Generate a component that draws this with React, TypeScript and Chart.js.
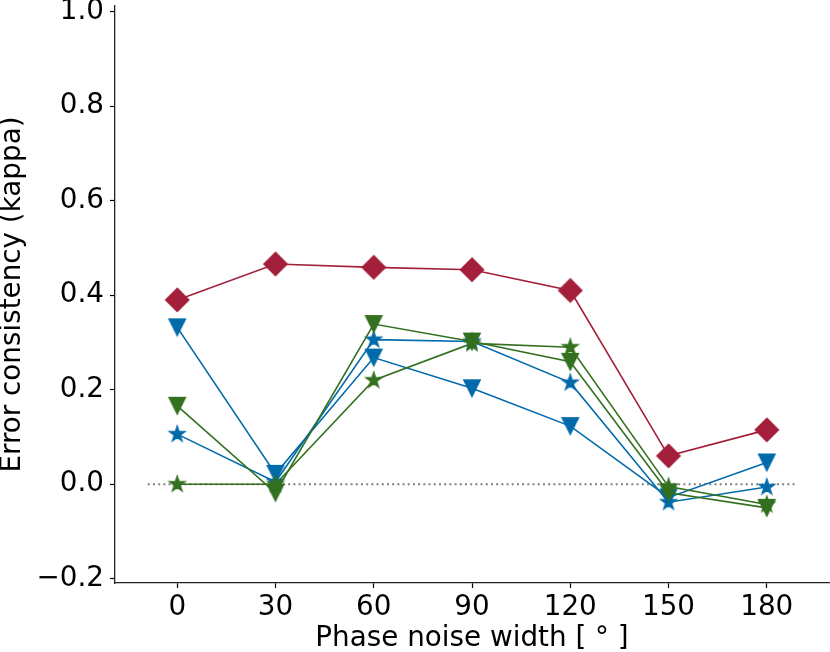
import { useEffect, useRef } from "react"
import { Chart, registerables } from "chart.js"

Chart.register(...registerables)

const phaseWidths = [0, 30, 60, 90, 120, 150, 180]
const xTicks = [0, 30, 60, 90, 120, 150, 180]
const yTicks = [-0.2, 0, 0.2, 0.4, 0.6, 0.8, 1.0]

const redDiamond = [0.39, 0.466, 0.459, 0.454, 0.41, 0.06, 0.115]
const blueTriangle = [0.332, 0.022, 0.268, 0.203, 0.123, -0.028, 0.046]
const blueStar = [0.106, 0.005, 0.306, 0.302, 0.215, -0.038, -0.006]
const greenTriangle = [0.166, -0.018, 0.339, 0.302, 0.259, -0.018, -0.05]
const greenStar = [0.0, 0.0, 0.22, 0.298, 0.29, -0.005, -0.043]

const zeroLineX = [-9, 189]

const RED = "#A31F3A"
const BLUE = "#006AAA"
const GREEN = "#33701F"
const FONT = "'DejaVu Sans', sans-serif"

// marker images, roughly matplotlib sizes (ms ~ 16.5px)
function makeMarker(shape: "diamond" | "tri" | "star", color: string) {
  const ms = 16.5
  const c = document.createElement("canvas")
  const size = shape === "diamond" ? 28 : 22
  c.width = size
  c.height = size
  const ctx = c.getContext("2d")!
  const m = size / 2
  ctx.beginPath()
  if (shape === "diamond") {
    const r = ms * 0.707
    ctx.moveTo(m, m - r)
    ctx.lineTo(m + r, m)
    ctx.lineTo(m, m + r)
    ctx.lineTo(m - r, m)
  } else if (shape === "tri") {
    const h = ms / 2
    ctx.moveTo(m - h, m - h)
    ctx.lineTo(m + h, m - h)
    ctx.lineTo(m, m + h)
  } else {
    const R = ms / 2
    const r = R * 0.382
    for (let i = 0; i < 10; i++) {
      const a = (i * Math.PI) / 5
      const rr = i % 2 === 0 ? R : r
      const px = m + Math.sin(a) * rr
      const py = m - Math.cos(a) * rr
      if (i === 0) ctx.moveTo(px, py)
      else ctx.lineTo(px, py)
    }
  }
  ctx.closePath()
  ctx.fillStyle = color
  ctx.fill()
  ctx.lineWidth = 1.3
  ctx.lineJoin = "miter"
  ctx.strokeStyle = color
  ctx.stroke()
  return c
}

export default function App() {
  const chartRef = useRef<HTMLCanvasElement>(null)
  const chartInstance = useRef<Chart>()

  useEffect(() => {
    if (!chartRef.current) return
    if (chartInstance.current) chartInstance.current.destroy()
    const ctx = chartRef.current.getContext("2d")
    if (!ctx) return

    const series = [
      { values: blueTriangle, color: BLUE, marker: makeMarker("tri", BLUE) },
      { values: blueStar, color: BLUE, marker: makeMarker("star", BLUE) },
      { values: greenTriangle, color: GREEN, marker: makeMarker("tri", GREEN) },
      { values: greenStar, color: GREEN, marker: makeMarker("star", GREEN) },
      { values: redDiamond, color: RED, marker: makeMarker("diamond", RED) },
    ]

    const datasets: any[] = series.map((s, i) => ({
      data: phaseWidths.map((x, j) => ({ x, y: s.values[j] })),
      borderColor: s.color,
      backgroundColor: s.color,
      borderWidth: 1.6,
      pointStyle: s.marker,
      pointRadius: 10,
      tension: 0,
      order: -i,
    }))

    datasets.push({
      data: zeroLineX.map((x) => ({ x, y: 0 })),
      borderColor: "#808080",
      borderWidth: 2,
      borderDash: [2, 3.2],
      pointRadius: 0,
      order: 10,
    })

    const tickFont = { family: FONT, size: 27.8 }

    chartInstance.current = new Chart(ctx, {
      type: "line",
      data: { datasets },
      options: {
        animation: false,
        responsive: true,
        maintainAspectRatio: false,
        layout: { autoPadding: false, padding: { top: 6, right: 1, left: 0, bottom: 0 } },
        plugins: { legend: { display: false }, tooltip: { enabled: false } },
        scales: {
          x: {
            type: "linear",
            min: -19,
            max: 199,
            afterBuildTicks: (axis: any) => {
              axis.ticks = xTicks.map((v) => ({ value: v }))
            },
            afterFit: (axis: any) => {
              axis.height = 69
              axis.paddingLeft = 0
              axis.paddingRight = 0
            },
            grid: { drawOnChartArea: false, drawTicks: true, tickLength: 5, tickColor: "#000", tickWidth: 1.2 },
            border: { display: true, color: "#222", width: 1.3 },
            ticks: { color: "#000", font: tickFont, padding: 3, maxRotation: 0, callback: (v: any) => String(v) },
            title: {
              display: true,
              text: "Phase noise width [ ° ]",
              color: "#000",
              font: tickFont,
              padding: { top: 0, bottom: -3 },
            },
          },
          y: {
            type: "linear",
            min: -0.209,
            max: 1.012,
            afterBuildTicks: (axis: any) => {
              axis.ticks = yTicks.map((v) => ({ value: v }))
            },
            afterFit: (axis: any) => {
              axis.width = 115
              axis.paddingTop = 0
              axis.paddingBottom = 0
            },
            grid: { drawOnChartArea: false, drawTicks: true, tickLength: 5, tickColor: "#000", tickWidth: 1.2 },
            border: { display: true, color: "#222", width: 1.3 },
            ticks: {
              color: "#000",
              font: tickFont,
              padding: 6,
              callback: (v: any) => Number(v).toFixed(1).replace("-", "\u2212"),
            },
            title: {
              display: true,
              text: "Error consistency (kappa)",
              color: "#000",
              font: tickFont,
              padding: { top: -4, bottom: 0 },
            },
          },
        },
      },
    } as any)

    return () => {
      if (chartInstance.current) chartInstance.current.destroy()
    }
  }, [])

  return (
    <div style={{ position: "absolute", left: 0, top: 0, width: 830, height: 652, background: "#fff" }}>
      <canvas ref={chartRef} />
    </div>
  )
}
